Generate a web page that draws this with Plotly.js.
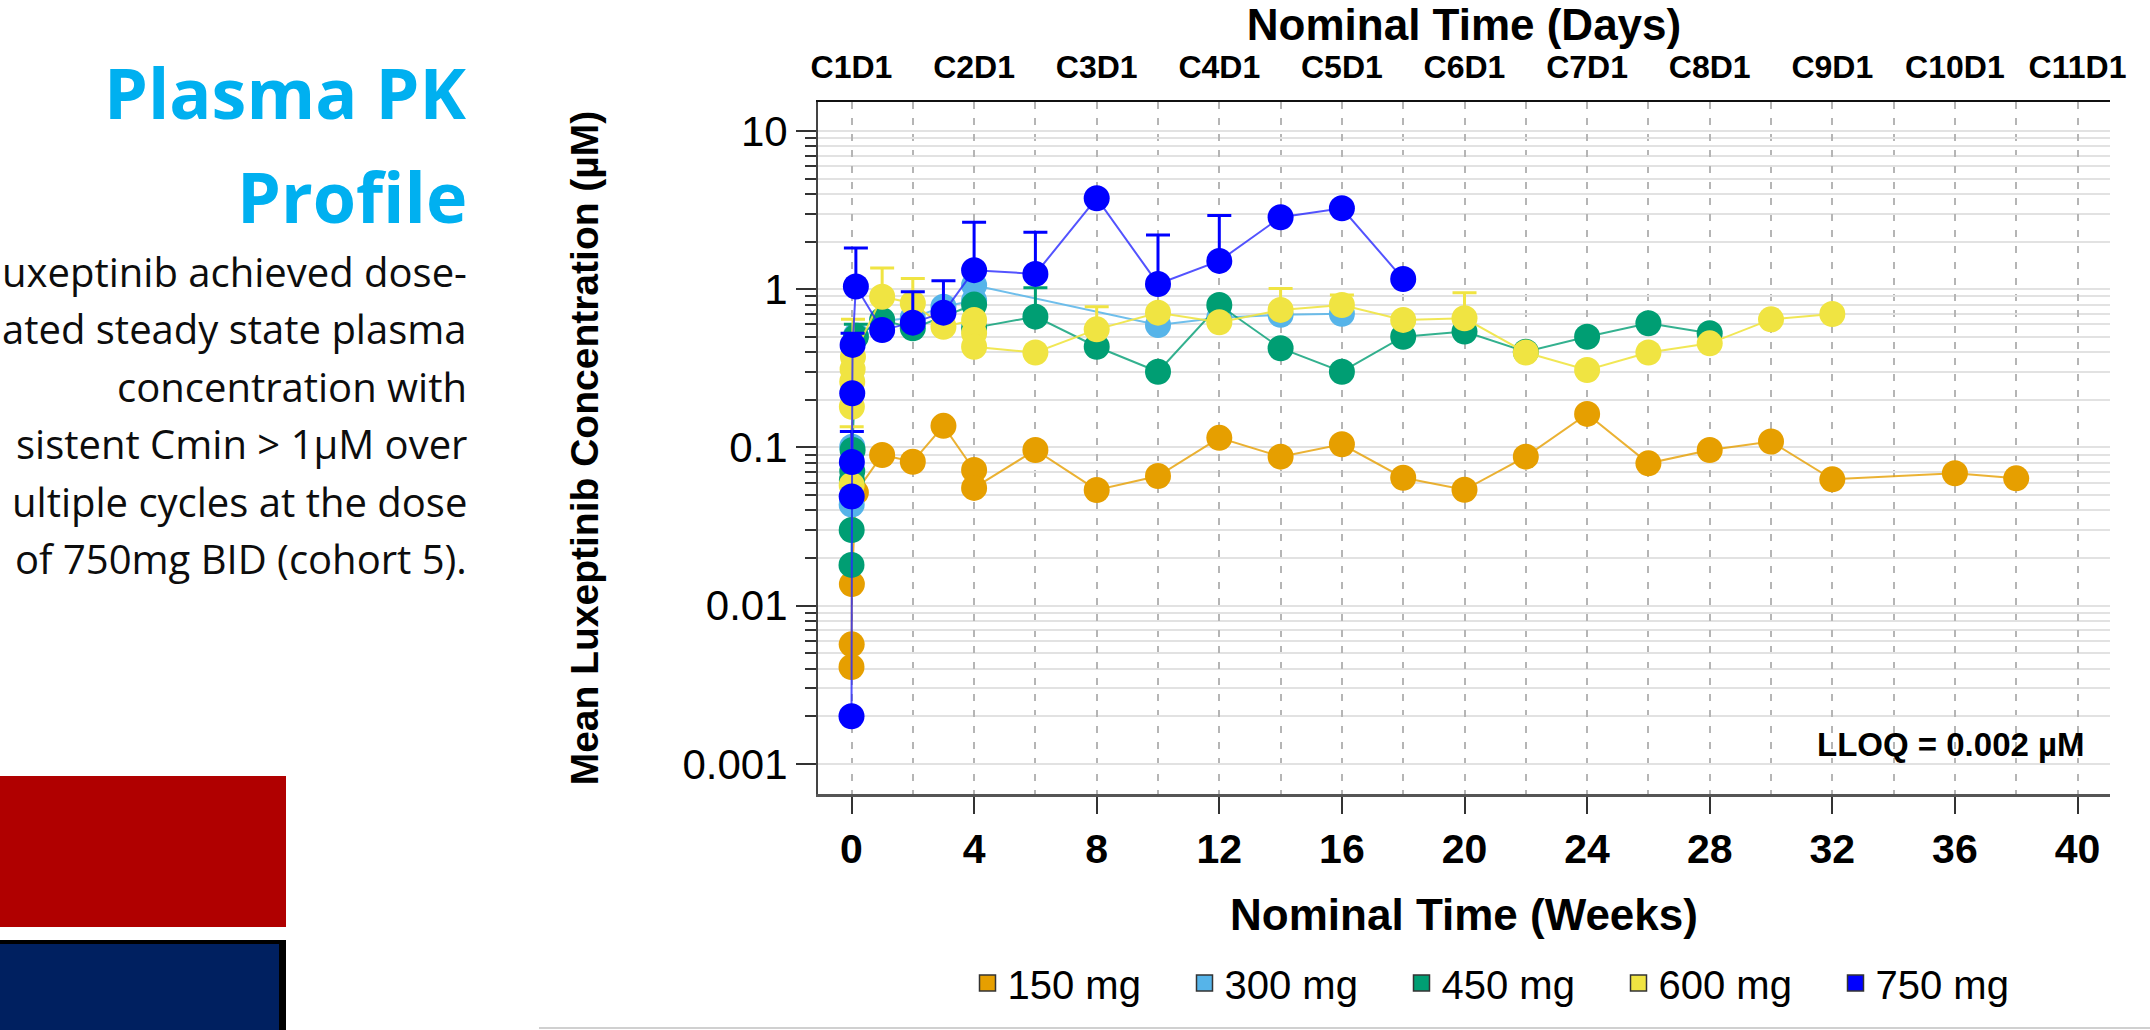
<!DOCTYPE html>
<html>
<head>
<meta charset="utf-8">
<script src="https://cdn.plot.ly/plotly-3.0.1.min.js"></script>
<style>
html,body{margin:0;padding:0;background:#fff;overflow:hidden}
#chart{width:2150px;height:1030px}
</style>
</head>
<body>
<div id="chart"></div>
<script>
// ---------------- DATA ----------------
const doseLabels = ['150 mg', '300 mg', '450 mg', '600 mg', '750 mg'];
const doseColors = ['#E69F00', '#56B4E9', '#009E73', '#F0E442', '#0000FF'];
const lineColors = ['rgba(230,159,0,0.8)', 'rgba(86,180,233,0.85)', 'rgba(0,158,115,0.8)', 'rgba(240,228,66,0.9)', 'rgba(40,40,255,0.8)'];

// nominal time in weeks, mean concentration (uM), upper SD (uM)
const weeks150 = [0, 0.006, 0.012, 0.143, 1, 2, 3, 4, 4, 6, 8, 10, 12, 14, 16, 18, 20, 22, 24, 26, 28, 30, 32, 36, 38];
const conc150  = [0.0041, 0.0057, 0.0137, 0.052, 0.0897, 0.0813, 0.137, 0.072, 0.0555, 0.0964, 0.0539, 0.066, 0.115, 0.0875, 0.1047, 0.0644, 0.054, 0.0875, 0.163, 0.0794, 0.0964, 0.109, 0.0629, 0.0687, 0.0638];
const sd150    = [null, null, null, null, null, null, null, null, null, null, null, null, null, null, null, null, null, null, null, null, null, null, null, null, null];

const weeks300 = [0.006, 0.024, 0.143, 1, 2, 3, 4, 4, 10, 12, 14, 16];
const conc300  = [0.0435, 0.101, 0.51, 0.63, 0.66, 0.776, 0.85, 1.06, 0.594, 0.66, 0.69, 0.70];
const sd300    = [null, null, null, null, null, null, null, null, null, null, null, null];

const weeks450 = [0, 0.006, 0.012, 0.024, 0.036, 0.143, 1, 2, 4, 4, 6, 8, 10, 12, 14, 16, 18, 20, 22, 24, 26, 28];
const conc450  = [0.0181, 0.0301, 0.0624, 0.0709, 0.0964, 0.50, 0.64, 0.566, 0.80, 0.57, 0.671, 0.433, 0.301, 0.795, 0.424, 0.301, 0.501, 0.54, 0.403, 0.501, 0.61, 0.527];
const sd450    = [null, null, null, null, null, 0.10, null, null, null, null, 0.35, null, null, null, null, null, null, null, null, null, null, null];

const weeks600 = [0.006, 0.012, 0.024, 0.036, 0.048, 1, 2, 3, 4, 4, 4, 6, 8, 10, 12, 14, 16, 18, 20, 22, 24, 26, 28, 30, 32];
const conc600  = [0.058, 0.181, 0.26, 0.312, 0.375, 0.897, 0.815, 0.579, 0.64, 0.527, 0.433, 0.398, 0.558, 0.711, 0.618, 0.74, 0.795, 0.64, 0.655, 0.398, 0.309, 0.398, 0.455, 0.645, 0.698];
const sd600    = [0.077, null, null, null, 0.27, 0.463, 0.355, null, null, null, null, null, 0.218, null, null, 0.27, 0.125, null, 0.296, null, null, null, null, null, null];

const weeks750 = [0, 0.006, 0.012, 0.024, 0.036, 0.143, 1, 2, 3, 4, 6, 8, 10, 12, 14, 16, 18];
const conc750  = [0.002, 0.049, 0.081, 0.22, 0.445, 1.04, 0.553, 0.615, 0.711, 1.32, 1.25, 3.76, 1.08, 1.51, 2.85, 3.25, 1.16];
const sd750    = [null, null, 0.045, null, 0.082, 0.78, null, 0.35, 0.419, 1.33, 1.04, null, 1.12, 1.41, null, null, null];

const weekTicks = [0, 4, 8, 12, 16, 20, 24, 28, 32, 36, 40];
const weekTickLabels = ['0', '4', '8', '12', '16', '20', '24', '28', '32', '36', '40'];
const cycleTickLabels = ['C1D1', 'C2D1', 'C3D1', 'C4D1', 'C5D1', 'C6D1', 'C7D1', 'C8D1', 'C9D1', 'C10D1', 'C11D1'];
const concTicks = [0.001, 0.01, 0.1, 1, 10];
const concTickLabels = ['0.001', '0.01', '0.1', '1', '10'];
const LLOQ = 0.002;
const lloqLabel = 'LLOQ = 0.002 µM';

const xTitle = 'Nominal Time (Weeks)';
const x2Title = 'Nominal Time (Days)';
const yTitle = 'Mean Luxeptinib Concentration (µM)';
const panelTitle = ['Plasma PK', 'Profile'];
const panelBody = ['uxeptinib achieved dose-', 'ated steady state plasma', 'concentration with',
                   'sistent Cmin > 1µM over', 'ultiple cycles at the dose', 'of 750mg BID (cohort 5).'];

// ---------------- LAYOUT HELPERS ----------------
const W = 2150, H = 1030;
const PL = 818, PR = 2110, PT = 102, PB = 794;
const px = x => (x - PL) / (PR - PL);
const py = y => (PB - y) / (PB - PT);

const seriesX = [weeks150, weeks300, weeks450, weeks600, weeks750];
const seriesY = [conc150, conc300, conc450, conc600, conc750];
const seriesSD = [sd150, sd300, sd450, sd600, sd750];

const traces = [];
for (let i = 0; i < 5; i++) {
  traces.push({
    type: 'scatter', mode: 'lines+markers',
    x: seriesX[i], y: seriesY[i], name: doseLabels[i], showlegend: false,
    line: {color: lineColors[i], width: 2},
    marker: {color: doseColors[i], size: 26, line: {width: 0}},
    error_y: {type: 'data', symmetric: false,
              array: seriesSD[i].map(v => v === null ? NaN : v),
              color: doseColors[i], thickness: 3, width: 12},
    cliponaxis: false, hoverinfo: 'x+y+name'
  });
}
// legend entries (square keys)
for (let i = 0; i < 5; i++) {
  traces.push({
    type: 'scatter', mode: 'markers', x: [null], y: [null], xaxis: 'x2',
    name: doseLabels[i], showlegend: true,
    marker: {color: doseColors[i], symbol: 'square', size: 16, line: {color: '#333', width: 1.5}}
  });
}

// minor tick values
const minorY = [];
for (let k = -3; k <= 1; k++) for (let d = 2; d <= 9; d++) {
  const v = d * Math.pow(10, k);
  if (v < 15) minorY.push(v);
}
const minorX = [];
for (let w = 2; w <= 38; w += 4) minorX.push(w);

const FONT = 'Liberation Sans, Arial, sans-serif';
const PFONT = 'Open Sans, Noto Sans, sans-serif';
const xRange = [-1.093, 41.06];

const annotations = [
  {xref: 'paper', yref: 'paper', x: px(2087), y: py(744), xanchor: 'right', yanchor: 'middle',
   text: lloqLabel, showarrow: false, font: {family: FONT, size: 33, weight: 'bold', color: '#000'}},
  {xref: 'paper', yref: 'paper', x: px(469), y: py(92), xanchor: 'right', yanchor: 'middle',
   text: panelTitle[0], showarrow: false, font: {family: PFONT, size: 70, weight: 'bold', color: '#00B0F0'}},
  {xref: 'paper', yref: 'paper', x: px(469), y: py(196), xanchor: 'right', yanchor: 'middle',
   text: panelTitle[1], showarrow: false, font: {family: PFONT, size: 70, weight: 'bold', color: '#00B0F0'}}
];
const bodyCenters = [271, 328.5, 386, 443.5, 501, 558.5];
panelBody.forEach((t, i) => annotations.push({
  xref: 'paper', yref: 'paper', x: px(469), y: py(bodyCenters[i]), xanchor: 'right', yanchor: 'middle',
  text: t, showarrow: false, font: {family: PFONT, size: 40, color: '#0d0d0d'}
}));

const shapes = [
  {type: 'line', xref: 'paper', yref: 'y', x0: 0, x1: 1, y0: Math.log10(LLOQ), y1: Math.log10(LLOQ),
   line: {color: '#d6d6d6', width: 3, dash: '22px,12px'}, layer: 'below'},
  {type: 'rect', xref: 'paper', yref: 'paper', x0: px(-10), x1: px(286), y0: py(776), y1: py(927),
   fillcolor: '#B00000', line: {width: 0}, layer: 'above'},
  {type: 'rect', xref: 'paper', yref: 'paper', x0: px(-10), x1: px(286), y0: py(940), y1: py(1040),
   fillcolor: '#000000', line: {width: 0}, layer: 'above'},
  {type: 'rect', xref: 'paper', yref: 'paper', x0: px(-10), x1: px(279), y0: py(944), y1: py(1040),
   fillcolor: '#002060', line: {width: 0}, layer: 'above'},
  {type: 'line', xref: 'paper', yref: 'paper', x0: px(539), x1: px(2150), y0: py(1028), y1: py(1028),
   line: {color: '#d0d0d0', width: 2}}
];

const layout = {
  width: W, height: H, autosize: false,
  margin: {l: PL, r: W - PR, t: PT, b: H - PB, pad: 0},
  paper_bgcolor: '#ffffff', plot_bgcolor: '#ffffff',
  font: {family: FONT, color: '#000'},
  showlegend: true,
  legend: {orientation: 'h', x: px(1510), y: py(983), xanchor: 'center', yanchor: 'middle',
           font: {family: FONT, size: 40, color: '#000'}, bgcolor: 'rgba(0,0,0,0)',
           entrywidth: 172, entrywidthmode: 'pixels', itemwidth: 30},
  xaxis: {
    type: 'linear', range: xRange, tickmode: 'array', tickvals: weekTicks, ticktext: weekTickLabels,
    ticks: 'outside', ticklen: 17, tickwidth: 2, tickcolor: '#333',
    tickfont: {family: FONT, size: 41, weight: 'bold', color: '#000'},
    showline: true, linecolor: '#555', linewidth: 3, zeroline: false,
    showgrid: true, gridcolor: '#b5b5b5', gridwidth: 2, griddash: '7px,9px',
    minor: {tickmode: 'array', tickvals: minorX, ticks: '', showgrid: true, gridcolor: '#b5b5b5', gridwidth: 2, griddash: '7px,9px'},
    title: {text: xTitle, font: {family: FONT, size: 44, weight: 'bold', color: '#000'}, standoff: 28},
    fixedrange: true, automargin: false
  },
  xaxis2: {
    overlaying: 'x', side: 'top', anchor: 'y', range: xRange, tickmode: 'array',
    tickvals: weekTicks, ticktext: cycleTickLabels,
    ticks: 'outside', ticklen: 9, tickcolor: 'rgba(0,0,0,0)',
    tickfont: {family: FONT, size: 32, weight: 'bold', color: '#000'},
    showline: true, linecolor: '#111', linewidth: 2, showgrid: false, zeroline: false,
    title: {text: x2Title, font: {family: FONT, size: 44, weight: 'bold', color: '#000'}, standoff: 46},
    fixedrange: true, automargin: false
  },
  yaxis: {
    type: 'log', range: [-3.19, 1.1833], tickmode: 'array', tickvals: concTicks, ticktext: concTickLabels,
    ticks: 'outside', ticklen: 20, tickwidth: 2, tickcolor: '#333',
    tickfont: {family: FONT, size: 42, color: '#000'},
    showline: true, linecolor: '#444', linewidth: 2, zeroline: false,
    showgrid: true, gridcolor: '#e2e2e2', gridwidth: 2,
    minor: {tickmode: 'array', tickvals: minorY, ticks: 'outside', ticklen: 11, tickwidth: 2, tickcolor: '#333',
            showgrid: true, gridcolor: '#e2e2e2', gridwidth: 2},
    title: {text: yTitle, font: {family: FONT, size: 39, weight: 'bold', color: '#000'}, standoff: 72},
    fixedrange: true, automargin: false
  },
  annotations: annotations,
  shapes: shapes
};

Plotly.newPlot('chart', traces, layout, {displayModeBar: false, staticPlot: true});
</script>
</body>
</html>
